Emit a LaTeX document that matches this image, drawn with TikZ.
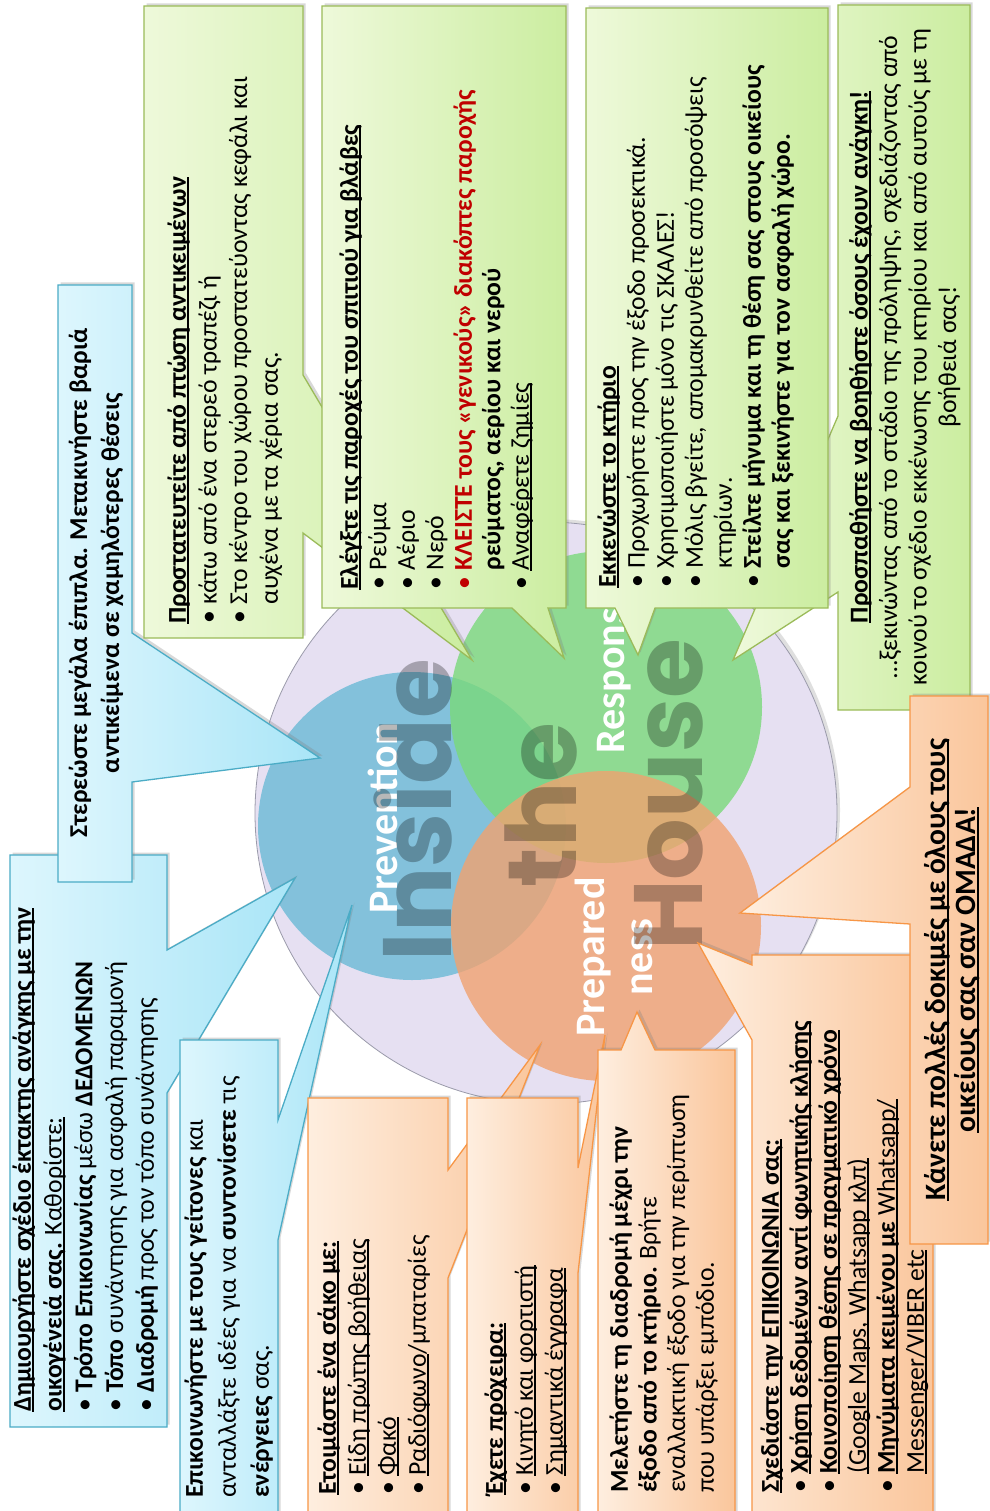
\documentclass[tikz,border=0pt]{standalone}
\usepackage{fontspec}
\setmainfont{Carlito}
\newfontfamily\popfont{Poppins}
\usetikzlibrary{shadows}
\definecolor{bluefillA}{HTML}{DDF6FD}
\definecolor{bluefillB}{HTML}{A9E5F7}
\definecolor{blueline}{HTML}{4BACC6}
\definecolor{greenfillA}{HTML}{EEF9DA}
\definecolor{greenfillB}{HTML}{CBEDA0}
\definecolor{greenline}{HTML}{9BBB59}
\definecolor{orangefillA}{HTML}{FEEEDF}
\definecolor{orangefillB}{HTML}{FAC69C}
\definecolor{orangeline}{HTML}{F79646}
\definecolor{lavfill}{HTML}{E6E0F2}
\definecolor{lavline}{HTML}{9A9AAA}
\definecolor{cblue}{HTML}{72BCD8}
\definecolor{cgreen}{HTML}{7AD97A}
\definecolor{corange}{HTML}{F0A270}
\definecolor{redtxt}{HTML}{C00000}
\newcommand\myul[1]{\setbox0\hbox{#1}\rlap{\rule[-0.13em]{\wd0}{0.065em}}\box0}
\newcommand\mybul{\makebox[0.75em][l]{•}}
\newcommand\myind{\hspace*{0.75em}}
\newcommand\topln{\rule{0pt}{21pt}}
\tikzset{
  callout/.style={line width=1.3pt, line join=miter, drop shadow={shadow xshift=2.5pt, shadow yshift=2.5pt, opacity=0.3}},
  bluecall/.style={callout, draw=blueline, left color=bluefillA, right color=bluefillB},
  greencall/.style={callout, draw=greenline, left color=greenfillA, right color=greenfillB},
  orangecall/.style={callout, draw=orangeline, left color=orangefillA, right color=orangefillB},
  txt/.style={rotate=90, inner sep=0pt, font=\fontsize{25.7}{30}\selectfont, align=left, anchor=north west},
  ctxt/.style={rotate=90, inner sep=0pt, font=\fontsize{25.7}{30}\selectfont, align=center, anchor=center},
  bigtxt/.style={rotate=90, inner sep=0pt, font=\popfont\bfseries\fontsize{97}{100}\selectfont, text=black, text opacity=0.28},
  lbl/.style={rotate=90, inner sep=0pt, font=\bfseries\fontsize{42}{48}\selectfont, text=white, align=center}
}
\begin{document}
\begin{tikzpicture}[x=1pt,y=-1pt]
\useasboundingbox[fill=white] (0,0) rectangle (989,1511);

% Venn background
\path[fill=lavfill, draw=lavline, line width=0.8pt, drop shadow={shadow xshift=3pt, shadow yshift=3pt, opacity=0.25}] (546,813) circle[radius=291];
\fill[cblue, fill opacity=0.85] (412,826) circle[radius=154];
\fill[cgreen, fill opacity=0.8] (606,707) circle[radius=156];
\fill[corange, fill opacity=0.8] (606,926) circle[radius=155];

\node[lbl] (prev) at (383,818) {Prevention};
\node[lbl] (resp) at (614,670) {Response};
\node[lbl] (prep) at (614,957) {Prepared\\ness};

\node[bigtxt] (inside) at (413,810) {Inside};
\node[bigtxt] (the) at (541,805) {the};
\node[bigtxt] (house) at (669,795) {House};

% blue callouts
\path[bluecall] (10,855) -- (167,855) -- (167,950) -- (295,878) -- (167,1093) -- (167,1427) -- (10,1427) -- cycle;
\node[txt, font=\fontsize{25.7}{30.75}\selectfont] (b2t) at (9.6,1412) {\topln\myul{\textbf{Δημιουργήστε σχέδιο έκτακτης ανάγκης με την}}\\
\myul{\textbf{οικογένειά σας.} Καθορίστε:}\\
\mybul\textbf{Τρόπο Επικοινωνίας} μέσω \textbf{ΔΕΔΟΜΕΝΩΝ}\\
\mybul\textbf{Τόπο} συνάντησης για ασφαλή παραμονή\\
\mybul\textbf{Διαδρομή} προς τον τόπο συνάντησης};

\path[bluecall] (58,285) -- (132,285) -- (132,633) -- (320,758) -- (132,782) -- (132,882) -- (58,882) -- cycle;
\node[ctxt, font=\bfseries\fontsize{25.7}{32}\selectfont] (b1t) at (96,583) {Στερεώστε μεγάλα έπιπλα. Μετακινήστε βαριά\\
αντικείμενα σε χαμηλότερες θέσεις};

\path[bluecall] (180,1040) -- (278,1040) -- (278,1120) -- (352,905) -- (278,1240) -- (278,1530) -- (180,1530) -- cycle;
\node[txt, font=\fontsize{25.7}{33}\selectfont] (b3t) at (181.6,1498) {\topln\textbf{Επικοινωνήστε με τους γείτονες} και\\
ανταλλάξτε ιδέες για να \textbf{συντονίσετε} τις\\
\textbf{ενέργειες} σας.};

% green callouts
\path[greencall] (144,6) -- (303,6) -- (303,375) -- (472,660) -- (303,533) -- (303,638) -- (144,638) -- cycle;
\node[txt, font=\fontsize{25.7}{30.7}\selectfont] (g1t) at (164.6,624) {\topln\myul{\textbf{Προστατευτείτε από πτώση αντικειμένων}}\\
\mybul κάτω από ένα στερεό τραπέζι ή\\
\mybul Στο κέντρο του χώρου προστατεύοντας κεφάλι και\\
\myind αυχένα με τα χέρια σας.};

\path[greencall] (322,6) -- (566,6) -- (566,608) -- (548,608) -- (564,658) -- (512,608) -- (322,608) -- cycle;
\node[txt, font=\fontsize{25.7}{28.5}\selectfont] (g2t) at (336.6,590) {\topln\myul{\textbf{Ελέγξτε τις παροχές του σπιτιού για βλάβες}}\\
\mybul Ρεύμα\\
\mybul Αέριο\\
\mybul Νερό\\
{\color{redtxt}\mybul\textbf{ΚΛΕΙΣΤΕ τους «γενικούς» διακόπτες παροχής}}\\
\myind\textbf{ρεύματος, αερίου και νερού}\\
\mybul\myul{Αναφέρετε ζημίες}};

\path[greencall] (838,5) -- (970,5) -- (970,710) -- (838,710) -- (838,592) -- (733,660) -- (838,416) -- cycle;
\node[ctxt, font=\fontsize{25.7}{29.5}\selectfont] (g4t) at (905,357) {\myul{\textbf{Προσπαθήστε να βοηθήστε όσους έχουν ανάγκη!}}\\
…ξεκινώντας από το στάδιο της πρόληψης, σχεδιάζοντας από\\
κοινού το σχέδιο εκκένωσης του κτηρίου και από αυτούς με τη\\
βοήθειά σας!};

\path[greencall] (586,8) -- (828,8) -- (828,608) -- (655,608) -- (638,655) -- (615,608) -- (586,608) -- cycle;
\node[txt, font=\fontsize{25.7}{29}\selectfont] (g3t) at (594.6,588) {\topln\myul{\textbf{Εκκενώστε το κτήριο}}\\
\mybul Προχωρήστε προς την έξοδο προσεκτικά.\\
\mybul Χρησιμοποιήστε μόνο τις ΣΚΑΛΕΣ!\\
\mybul Μόλις βγείτε, απομακρυνθείτε από προσόψεις\\
\myind κτηρίων.\\
\mybul\textbf{Στείλτε μήνυμα και τη θέση σας στους οικείους}\\
\myind\textbf{σας και ξεκινήστε για τον ασφαλή χώρο.}};

% orange callouts
\path[orangecall] (308,1098) -- (448,1098) -- (448,1170) -- (540,1045) -- (448,1278) -- (448,1530) -- (308,1530) -- cycle;
\node[txt] (o1t) at (314.6,1495) {\topln\myul{\textbf{Ετοιμάστε ένα σάκο με:}}\\
\mybul\myul{Είδη πρώτης βοήθειας}\\
\mybul\myul{Φακό}\\
\mybul\myul{Ραδιόφωνο}/μπαταρίες};

\path[orangecall] (467,1098) -- (578,1098) -- (578,1168) -- (605,1035) -- (578,1273) -- (578,1530) -- (467,1530) -- cycle;
\node[txt] (o2t) at (481.6,1495) {\topln\myul{\textbf{Έχετε πρόχειρα:}}\\
\mybul\myul{Κινητό και φορτιστή}\\
\mybul\myul{Σημαντικά έγγραφα}};

\path[orangecall] (598,1050) -- (621,1050) -- (637,1012) -- (655,1050) -- (735,1050) -- (735,1530) -- (598,1530) -- cycle;
\node[txt, font=\fontsize{25.7}{28.7}\selectfont] (o3t) at (606.6,1493) {\topln\textbf{Μελετήστε τη διαδρομή μέχρι την}\\
\textbf{έξοδο από το κτήριο.} Βρήτε\\
εναλλακτική έξοδο για την περίπτωση\\
που υπάρξει εμπόδιο.};

\path[orangecall] (752,955) -- (933,955) -- (933,1530) -- (752,1530) -- (752,1040) -- (698,943) -- (752,965) -- cycle;
\node[txt, font=\fontsize{25.7}{29}\selectfont] (o4t) at (757.6,1493) {\topln\myul{\textbf{Σχεδιάστε την ΕΠΙΚΟΙΝΩΝΙΑ σας:}}\\
\mybul\myul{\textbf{Χρήση δεδομένων αντί φωνητικής κλήσης}}\\
\mybul\myul{\textbf{Κοινοποίηση θέσης σε πραγματικό χρόνο}}\\
\myind\myul{(Google Maps, Whatsapp κλπ)}\\
\mybul\myul{\textbf{Μηνύματα κειμένου με} Whatsapp/}\\
\myind\myul{Messenger/VIBER etc}};

\path[orangecall] (910,696) -- (988,696) -- (988,1244) -- (910,1244) -- (910,924) -- (740,913) -- (910,787) -- cycle;
\node[ctxt, font=\bfseries\fontsize{29.5}{30}\selectfont] (o5t) at (952,970) {\myul{Κάνετε πολλές δοκιμές με όλους τους}\\
\myul{οικείους σας σαν ΟΜΑΔΑ!}};
\end{tikzpicture}
\end{document}
